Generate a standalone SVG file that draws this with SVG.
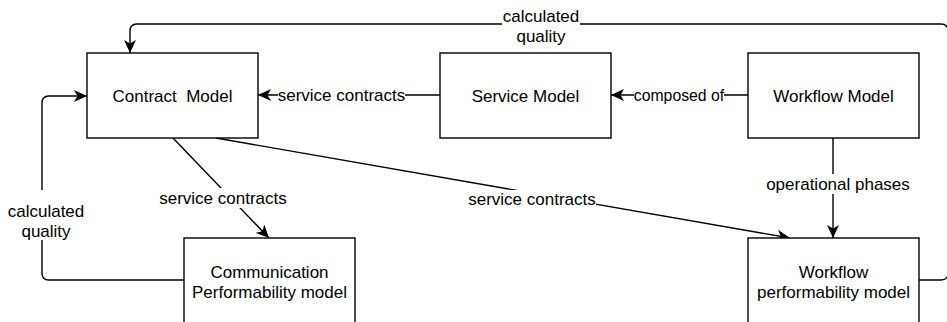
<svg xmlns="http://www.w3.org/2000/svg" width="947" height="322" viewBox="0 0 947 322">
<style>
.box{fill:#fff;stroke:#000;stroke-width:1.4}
.edge{fill:none;stroke:#000;stroke-width:1.4}
.t{font-family:"Liberation Sans",Arial,Helvetica,sans-serif;font-size:17px;fill:#000;text-anchor:middle}
.bg{fill:#fff;stroke:none}
</style>
<defs>
<marker id="arr" markerUnits="userSpaceOnUse" viewBox="0 0 13 12" refX="13" refY="6" markerWidth="13" markerHeight="12" orient="auto">
<path d="M0,0 L13,6 L0,12 L3.5,6 Z" fill="#000"/>
</marker>
</defs>
<rect width="947" height="322" fill="#fff"/>
<g id="connectors">
<path class="edge" d="M919,280 L941,280 Q948,280 948,273 L948,31 Q948,24 941,24 L137,24 Q130,24 130,31 L130,53" marker-end="url(#arr)"/>
<path class="edge" d="M184,280 L49,280 Q42,280 42,273 L42,103 Q42,96 49,96 L87,96" marker-end="url(#arr)"/>
<path class="edge" d="M440,95 L258,95" marker-end="url(#arr)"/>
<path class="edge" d="M748,95 L611,95" marker-end="url(#arr)"/>
<path class="edge" d="M173,138 L269,238" marker-end="url(#arr)"/>
<path class="edge" d="M216,138 L790,238" marker-end="url(#arr)"/>
<path class="edge" d="M833,138 L833,238" marker-end="url(#arr)"/>
<rect class="bg" x="502" y="6" width="78" height="40"/>
<text class="t" x="541" y="22">calculated</text>
<text class="t" x="541" y="42">quality</text>
<rect class="bg" x="8" y="190" width="77" height="50"/>
<text class="t" x="46" y="217">calculated</text>
<text class="t" x="46" y="237">quality</text>
<rect class="bg" x="278" y="85" width="127" height="20"/>
<text class="t" x="341.5" y="101">service contracts</text>
<rect class="bg" x="634" y="85" width="90" height="20"/>
<text class="t" x="679" y="101" style="font-size:15.8px">composed of</text>
<rect class="bg" x="159" y="188" width="128" height="20"/>
<text class="t" x="223" y="204">service contracts</text>
<rect class="bg" x="468" y="190" width="128" height="20"/>
<text class="t" x="532" y="205">service contracts</text>
<rect class="bg" x="766" y="174" width="144" height="20"/>
<text class="t" x="838" y="190">operational phases</text>
</g>
<g id="contract-model">
<rect class="box" x="87" y="53" width="171" height="85"/>
<text class="t" x="172.5" y="102" xml:space="preserve">Contract  Model</text>
</g>
<g id="service-model">
<rect class="box" x="440" y="53" width="171" height="85"/>
<text class="t" x="525.5" y="102">Service Model</text>
</g>
<g id="workflow-model">
<rect class="box" x="748" y="53" width="171" height="85"/>
<text class="t" x="833.5" y="102">Workflow Model</text>
</g>
<g id="communication-performability-model">
<rect class="box" x="184" y="238" width="171" height="86"/>
<text class="t" x="269.5" y="277.5">Communication</text>
<text class="t" x="269.5" y="297.5">Performability model</text>
</g>
<g id="workflow-performability-model">
<rect class="box" x="748" y="238" width="171" height="86"/>
<text class="t" x="833.5" y="277.5">Workflow</text>
<text class="t" x="833.5" y="297.5">performability model</text>
</g>
</svg>
